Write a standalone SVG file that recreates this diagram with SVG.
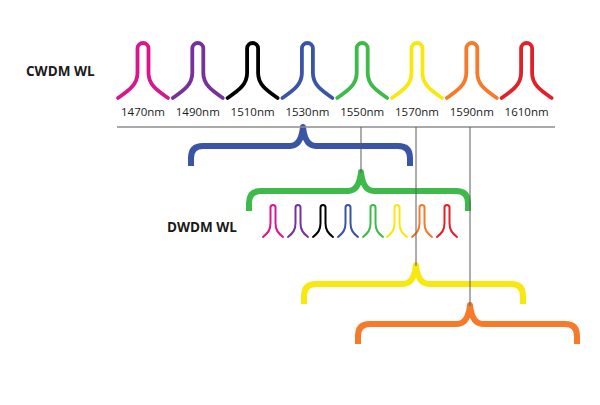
<svg xmlns="http://www.w3.org/2000/svg" width="600" height="405" viewBox="0 0 600 405">
<style>
.pk{fill:none;stroke-width:3.8;stroke-linecap:round;stroke-linejoin:round}
.sp{fill:none;stroke-width:2;stroke-linecap:round;stroke-linejoin:round}
.br{fill:none;stroke-width:6;stroke-linejoin:round}
.lbl{font-family:"Open Sans","Liberation Sans",sans-serif;font-size:11.5px;fill:#1a1a1a;text-anchor:middle}
.ttl{font-family:"Open Sans","Liberation Sans",sans-serif;font-size:13.5px;font-weight:700;fill:#1a1a1a}
.vl{stroke:#5a5a5a;stroke-width:1;fill:none}
</style>
<defs>
<path id="big" d="M-25,55 C-15,48 -5.5,42 -5.5,30 L-5.5,5.5 A5.5,5.5 0 0 1 5.5,5.5 L5.5,30 C5.5,42 15,48 25,55"/>
<path id="small" d="M-10,32 C-5,28 -2.5,25 -2.5,18 L-2.5,2.5 A2.5,2.5 0 0 1 2.5,2.5 L2.5,18 C2.5,25 5,28 10,32"/>
<path id="brace" d="M-112,39 L-112,31 Q-112,19 -100,19 L-13,19 Q-2,19 0,0 Q2,19 13,19 L95,19 Q107,19 107,31 L107,39"/>
</defs>
<text id="cwdm-title" class="ttl" x="26" y="76">CWDM WL</text>
<text id="dwdm-title" class="ttl" x="167" y="232">DWDM WL</text>
<g id="cwdm">
<g id="c1470"><use href="#big" class="pk" stroke="#d9168c" transform="translate(143,43)"/><text class="lbl" x="143" y="116">1470nm</text></g>
<g id="c1490"><use href="#big" class="pk" stroke="#76319a" transform="translate(197.8,43)"/><text class="lbl" x="197.8" y="116">1490nm</text></g>
<g id="c1510"><use href="#big" class="pk" stroke="#000000" transform="translate(252.6,43)"/><text class="lbl" x="252.6" y="116">1510nm</text></g>
<g id="c1530"><use href="#big" class="pk" stroke="#3a54a6" transform="translate(307.4,43)"/><text class="lbl" x="307.4" y="116">1530nm</text></g>
<g id="c1550"><use href="#big" class="pk" stroke="#3dba4a" transform="translate(362.2,43)"/><text class="lbl" x="362.2" y="116">1550nm</text></g>
<g id="c1570"><use href="#big" class="pk" stroke="#f8e80f" transform="translate(417,43)"/><text class="lbl" x="417" y="116">1570nm</text></g>
<g id="c1590"><use href="#big" class="pk" stroke="#f67a2a" transform="translate(471.8,43)"/><text class="lbl" x="471.8" y="116">1590nm</text></g>
<g id="c1610"><use href="#big" class="pk" stroke="#e1212a" transform="translate(526.6,43)"/><text class="lbl" x="526.6" y="116">1610nm</text></g>
</g>
<g id="dwdm">
<use href="#small" class="sp" stroke="#d9168c" transform="translate(273,205)"/>
<use href="#small" class="sp" stroke="#76319a" transform="translate(298,205)"/>
<use href="#small" class="sp" stroke="#000000" transform="translate(323,205)"/>
<use href="#small" class="sp" stroke="#3a54a6" transform="translate(348,205)"/>
<use href="#small" class="sp" stroke="#3dba4a" transform="translate(373,205)"/>
<use href="#small" class="sp" stroke="#f8e80f" transform="translate(397,205)"/>
<use href="#small" class="sp" stroke="#f67a2a" transform="translate(422,205)"/>
<use href="#small" class="sp" stroke="#e1212a" transform="translate(447,205)"/>
</g>
<g id="brace-blue"><use href="#brace" class="br" stroke="#3a54a6" transform="translate(303,127)"/></g>
<g id="brace-green"><use href="#brace" class="br" stroke="#3dba4a" transform="translate(361,172)"/></g>
<g id="brace-yellow"><use href="#brace" class="br" stroke="#f8e80f" transform="translate(416,265)"/></g>
<g id="brace-orange"><use href="#brace" class="br" stroke="#f67a2a" transform="translate(470,305)"/></g>
<g id="connectors">
<line x1="117" y1="127" x2="555" y2="127" stroke="#8c8c8c" stroke-width="1.5"/>
<line class="vl" x1="361" y1="127" x2="361" y2="173"/>
<line class="vl" x1="416" y1="127" x2="416" y2="266"/>
<line class="vl" x1="470" y1="127" x2="470" y2="306"/>
</g>
</svg>
